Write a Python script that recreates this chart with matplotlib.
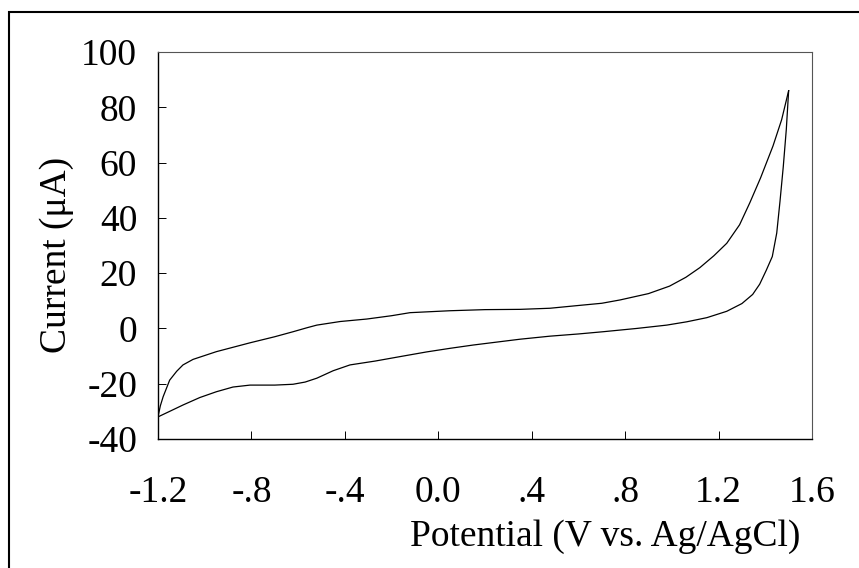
import matplotlib
matplotlib.use("Agg")
import matplotlib.pyplot as plt
from matplotlib.patches import Rectangle

# Anodic (forward) sweep, -1.2 V -> 1.5 V
forward_potential = [-1.2, -1.19, -1.178, -1.15, -1.12, -1.093, -1.05, -0.95, -0.806, -0.7,
                     -0.622, -0.56, -0.52, -0.42, -0.306, -0.2, -0.121, 0.05, 0.2, 0.35,
                     0.478, 0.6, 0.7, 0.778, 0.9, 0.99, 1.06, 1.12, 1.18, 1.235,
                     1.29, 1.334, 1.38, 1.433, 1.47, 1.5]
forward_current = [-32, -28, -24.7, -18.7, -15.5, -13.2, -11.2, -8.4, -5.2, -3.0,
                   -1.2, 0.3, 1.2, 2.5, 3.4, 4.6, 5.7, 6.4, 6.8, 6.9,
                   7.3, 8.3, 9.1, 10.3, 12.6, 15.3, 18.5, 22.0, 26.3, 30.8,
                   37.5, 45.5, 54.5, 66.0, 75.5, 86.0]

# Cathodic (reverse) sweep, 1.5 V -> -1.2 V
reverse_potential = [1.5, 1.49, 1.477, 1.463, 1.449, 1.43, 1.404, 1.376, 1.346, 1.3,
                     1.235, 1.15, 1.064, 0.978, 0.85, 0.705, 0.6, 0.478, 0.35, 0.264,
                     0.15, 0.05, -0.05, -0.164, -0.27, -0.378, -0.45, -0.52, -0.57, -0.622,
                     -0.7, -0.806, -0.879, -0.95, -1.021, -1.093, -1.15, -1.2]
reverse_current = [86, 72, 58.5, 46, 34.5, 26, 21, 16, 12.3, 9.0,
                   6.2, 3.9, 2.4, 1.2, 0.0, -1.2, -2.0, -2.8, -3.9, -4.8,
                   -6.0, -7.2, -8.5, -10.2, -11.8, -13.2, -15.3, -18.0, -19.4, -20.2,
                   -20.5, -20.5, -21.2, -22.9, -25.0, -27.7, -30.0, -32.0]

x_ticks = [-1.2, -0.8, -0.4, 0.0, 0.4, 0.8, 1.2, 1.6]
x_tick_labels = ["-1.2", "-.8", "-.4", "0.0", ".4", ".8", "1.2", "1.6"]
y_ticks = [-40, -20, 0, 20, 40, 60, 80, 100]
y_tick_labels = ["-40", "-20", "0", "20", "40", "60", "80", "100"]

W, H = 859, 568
fig = plt.figure(figsize=(W / 100, H / 100), dpi=100)
fig.patch.set_facecolor("white")

font = "Liberation Serif"
fs = 27

ax = fig.add_axes([158 / W, 1 - 439 / H, (812 - 158) / W, (439 - 52) / H])
ax.plot(forward_potential, forward_current, color="black", lw=0.9)
ax.plot(reverse_potential, reverse_current, color="black", lw=0.9)

ax.set_xlim(-1.2, 1.6)
ax.set_ylim(-40, 100)
ax.set_xticks(x_ticks)
ax.set_xticklabels(x_tick_labels, fontfamily=font, fontsize=fs)
ax.set_yticks(y_ticks)
ax.set_yticklabels(y_tick_labels, fontfamily=font, fontsize=fs)
ax.tick_params(axis="x", direction="in", length=5.5, width=0.7, pad=26)
ax.tick_params(axis="y", direction="in", length=5.5, width=0.7, pad=15)

# no tick marks at the ends of the axes
for t in (ax.xaxis.get_major_ticks()[0], ax.xaxis.get_major_ticks()[-1],
          ax.yaxis.get_major_ticks()[0], ax.yaxis.get_major_ticks()[-1]):
    t.tick1line.set_visible(False)

for side in ("left", "bottom"):
    ax.spines[side].set_color("black")
    ax.spines[side].set_linewidth(1.0)
for side in ("top", "right"):
    ax.spines[side].set_color("#555555")
    ax.spines[side].set_linewidth(0.8)

fig.text(800 / W, 1 - 537 / H, "Potential (V vs. Ag/AgCl)", ha="right", va="center",
         fontfamily=font, fontsize=fs)
fig.text(57 / W, 1 - 255 / H, "Current (\u03bcA)", ha="center", va="center",
         rotation=90, fontfamily=font, fontsize=fs)

# frame around the figure
fig.patches.append(Rectangle((9 / W, -0.2), 1.2, (1 - 12 / H) + 0.2,
                             transform=fig.transFigure, fill=False,
                             edgecolor="black", lw=1.5, clip_on=False))

fig.savefig("out.png", dpi=100)
